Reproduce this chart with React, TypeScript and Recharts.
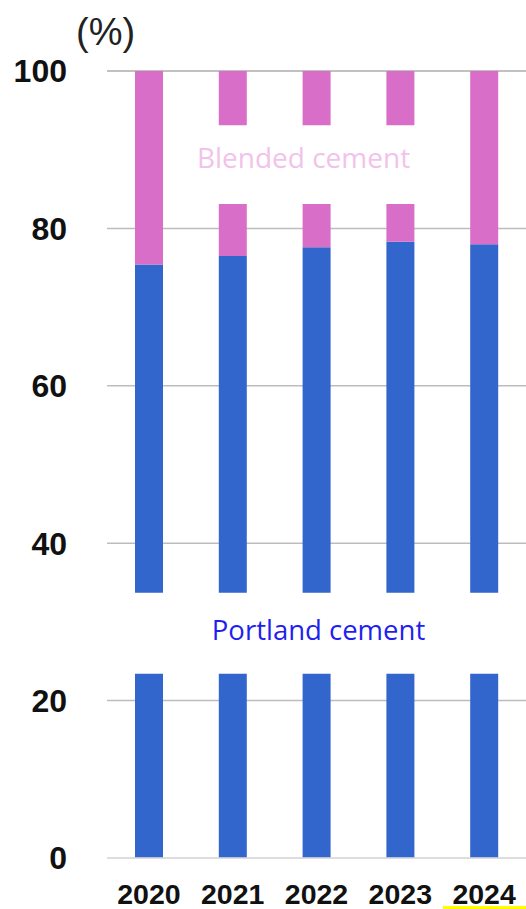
import {
  BarChart,
  Bar,
  XAxis,
  YAxis,
  CartesianGrid,
  ReferenceArea,
  ReferenceLine,
} from "recharts";

const years = ["2020", "2021", "2022", "2023", "2024"];
const portland = [75.4, 76.5, 77.6, 78.3, 78.0];
const yTicks = [0, 20, 40, 60, 80, 100];

// white breaks in the bars where the series names sit
const portlandBreak = [23.4, 33.7];
const blendedBreak = [83.1, 93.1];
const blendedBreakYears = ["2021", "2022", "2023"];

const r = (v: number) => +v.toFixed(2);

const data = years.map((year, i) => {
  const p = portland[i];
  const cut = blendedBreakYears.includes(year);
  return {
    year,
    p1: portlandBreak[0],
    pGap: r(portlandBreak[1] - portlandBreak[0]),
    p2: r(p - portlandBreak[1]),
    b1: cut ? r(blendedBreak[0] - p) : r(100 - p),
    bGap: cut ? r(blendedBreak[1] - blendedBreak[0]) : 0,
    b2: cut ? r(100 - blendedBreak[1]) : 0,
  };
});

const BLUE = "#3366cc";
const PINK = "#d86ec7";

const App = () => {
  return (
    <div style={{ position: "absolute", left: 0, top: 0, width: 526, height: 909, background: "#fff" }}>
      <div
        style={{
          position: "absolute",
          left: 76,
          top: 11,
          fontSize: 38,
          lineHeight: "normal",
          fontFamily: "'Liberation Sans', Arial, sans-serif",
          color: "#222",
        }}
      >
        (%)
      </div>
      <BarChart
        width={526}
        height={909}
        data={data}
        margin={{ top: 71, right: 0, bottom: 0, left: 0 }}
        barSize={28}
      >
        <CartesianGrid vertical={false} stroke="#bdbdbd" strokeWidth={1.5} />
        <ReferenceLine y={0} stroke="#e2e2e2" strokeWidth={1.5} />
        <XAxis
          dataKey="year"
          height={51}
          axisLine={false}
          tickLine={false}
          tickMargin={20}
          tick={{
            fill: "#111",
            fontSize: 28.5,
            fontWeight: "bold",
            fontFamily: "'Liberation Sans', Arial, sans-serif",
          }}
        />
        <YAxis
          width={107}
          domain={[0, 100]}
          ticks={yTicks}
          axisLine={false}
          tickLine={false}
          tickMargin={34}
          tick={{
            fill: "#111",
            fontSize: 32,
            fontWeight: "bold",
            fontFamily: "'Liberation Sans', Arial, sans-serif",
          }}
        />
        <Bar dataKey="p1" stackId="a" fill={BLUE} isAnimationActive={false} />
        <Bar dataKey="pGap" stackId="a" fill="none" isAnimationActive={false} />
        <Bar dataKey="p2" stackId="a" fill={BLUE} isAnimationActive={false} />
        <Bar dataKey="b1" stackId="a" fill={PINK} isAnimationActive={false} />
        <Bar dataKey="bGap" stackId="a" fill="none" isAnimationActive={false} />
        <Bar dataKey="b2" stackId="a" fill={PINK} isAnimationActive={false} />
        <ReferenceArea
          y1={portlandBreak[0]}
          y2={portlandBreak[1]}
          fill="none"
          stroke="none"
          label={{
            value: "Portland cement",
            position: "center",
            fill: "#1f1ff0",
            fontSize: 27.5,
            fontFamily: "'Open Sans', 'Noto Sans', sans-serif",
            dx: 2,
            dy: -3,
          }}
        />
        <ReferenceArea
          x1={blendedBreakYears[0]}
          x2={blendedBreakYears[blendedBreakYears.length - 1]}
          y1={blendedBreak[0]}
          y2={blendedBreak[1]}
          fill="none"
          stroke="none"
          label={{
            value: "Blended cement",
            position: "center",
            fill: "#f2c3ea",
            fontSize: 28,
            fontFamily: "'Open Sans', 'Noto Sans', sans-serif",
            dx: -13,
            dy: -7,
          }}
        />
      </BarChart>
      {/* yellow highlight under 2024 */}
      <div style={{ position: "absolute", left: 443, top: 906, width: 83, height: 3, background: "#ffff00" }} />
    </div>
  );
};

export default App;
